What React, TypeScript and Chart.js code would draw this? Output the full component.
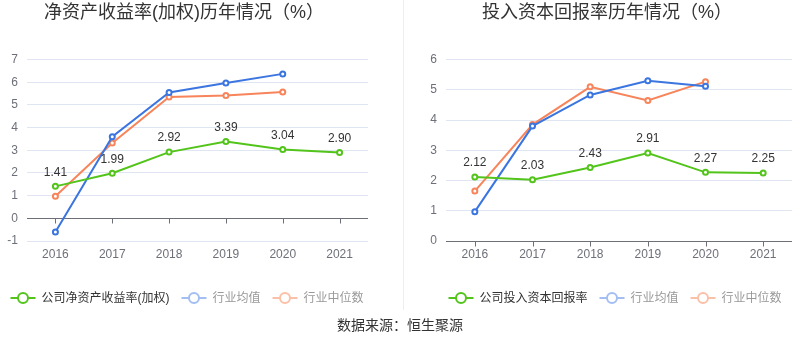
import React, { useEffect, useRef } from "react";
import { Chart, registerables } from "chart.js";
Chart.register(...registerables);

const years = ["2016", "2017", "2018", "2019", "2020", "2021"];

const roeTitle = "净资产收益率(加权)历年情况（%）";
const roeLabels = ["公司净资产收益率(加权)", "行业均值", "行业中位数"];
const roeCompany = [1.41, 1.99, 2.92, 3.39, 3.04, 2.9];
const roeIndustryMean = [-0.6, 3.6, 5.55, 5.97, 6.37, null];
const roeIndustryMedian = [0.97, 3.32, 5.35, 5.42, 5.57, null];
const roeRange = [-1, 7];

const roicTitle = "投入资本回报率历年情况（%）";
const roicLabels = ["公司投入资本回报率", "行业均值", "行业中位数"];
const roicCompany = [2.12, 2.03, 2.43, 2.91, 2.27, 2.25];
const roicIndustryMean = [0.97, 3.8, 4.83, 5.3, 5.12, null];
const roicIndustryMedian = [1.65, 3.85, 5.1, 4.65, 5.27, null];
const roicRange = [0, 6];

const sourceText = "数据来源：恒生聚源";

const FONT = "'Liberation Sans', 'Noto Sans CJK SC', sans-serif";
const COLORS = ["#52c41a", "#3a75e0", "#f7845a"];
const FADED = ["#52c41a", "#a3bef3", "#fbc0a8"];
const TEXT_COLORS = ["#333333", "#999999", "#999999"];

function drawIcon(ctx: CanvasRenderingContext2D, x: number, y: number, color: string) {
  ctx.save();
  ctx.strokeStyle = color;
  ctx.lineWidth = 2;
  ctx.beginPath();
  ctx.moveTo(x, y);
  ctx.lineTo(x + 25, y);
  ctx.stroke();
  ctx.beginPath();
  ctx.arc(x + 12.5, y, 5, 0, Math.PI * 2);
  ctx.fillStyle = "#fff";
  ctx.fill();
  ctx.stroke();
  ctx.restore();
}

const legendPlugin = {
  id: "customLegend",
  afterDraw(chart: any, _args: any, opts: any) {
    const { ctx } = chart;
    ctx.save();
    ctx.font = `12px ${FONT}`;
    const items = chart.data.datasets.map((ds: any) => ({
      text: ds.label as string,
      w: 25 + 6 + ctx.measureText(ds.label).width,
    }));
    const gap = 12;
    const total = items.reduce((a: number, it: any) => a + it.w, 0) + gap * (items.length - 1);
    let x = opts.centerX - total / 2;
    const y = opts.y;
    items.forEach((it: any, i: number) => {
      drawIcon(ctx, x, y, FADED[i]);
      ctx.fillStyle = TEXT_COLORS[i];
      ctx.textAlign = "left";
      ctx.textBaseline = "middle";
      ctx.fillText(it.text, x + 31, y + 1);
      x += it.w + gap;
    });
    ctx.restore();
  },
};

const zeroAxisPlugin = {
  id: "zeroAxis",
  beforeDatasetsDraw(chart: any) {
    const { ctx, chartArea, scales } = chart;
    const x = scales.x;
    const y = scales.y;
    const y0 = Math.round(y.getPixelForValue(0)) + 0.5;
    ctx.save();
    ctx.strokeStyle = "#6e7079";
    ctx.lineWidth = 1;
    ctx.beginPath();
    ctx.moveTo(chartArea.left, y0);
    ctx.lineTo(chartArea.right, y0);
    x.ticks.forEach((_: any, i: number) => {
      const px = Math.round(x.getPixelForTick(i)) + 0.5;
      ctx.moveTo(px, y0);
      ctx.lineTo(px, y0 + 5);
    });
    ctx.stroke();
    ctx.restore();
  },
};

const valueLabelPlugin = {
  id: "valueLabels",
  afterDatasetsDraw(chart: any) {
    const { ctx } = chart;
    const meta = chart.getDatasetMeta(0);
    const data = chart.data.datasets[0].data;
    ctx.save();
    ctx.font = `12px ${FONT}`;
    ctx.fillStyle = "#333";
    ctx.textAlign = "center";
    ctx.textBaseline = "middle";
    meta.data.forEach((pt: any, i: number) => {
      if (data[i] == null) return;
      ctx.fillText(Number(data[i]).toFixed(2), pt.x, pt.y - 14);
    });
    ctx.restore();
  },
};

function LineChart(props: {
  title: string;
  labels: string[];
  series: (number | null)[][];
  range: number[];
  yWidth: number;
  padLeft: number;
  padRight: number;
  legendCenter: number;
}) {
  const ref = useRef<HTMLCanvasElement>(null);
  useEffect(() => {
    const chart = new Chart(ref.current!, {
      type: "line",
      data: {
        labels: years,
        datasets: props.series.map((s, i) => ({
          label: props.labels[i],
          data: s,
          borderColor: COLORS[i],
          backgroundColor: "#fff",
          borderWidth: 2,
          pointRadius: 2.5,
          pointBorderWidth: 2,
          pointBackgroundColor: "#fff",
          pointBorderColor: COLORS[i],
          tension: 0,
          spanGaps: false,
        })),
      },
      options: {
        animation: false,
        responsive: false,
        devicePixelRatio: 1,
        layout: { padding: { left: props.padLeft, right: props.padRight, top: 0, bottom: 36 } },
        plugins: {
          title: {
            display: true,
            text: props.title,
            color: "#333",
            font: { size: 18, weight: "normal", family: FONT },
            padding: { top: 2, bottom: 36 },
          },
          legend: { display: false },
          tooltip: { enabled: false },
          customLegend: { centerX: props.legendCenter, y: 298 },
        },
        scales: {
          x: {
            offset: true,
            grid: { display: false, drawTicks: false },
            border: { display: false },
            ticks: { color: "#6e7079", font: { size: 12, family: FONT }, padding: 6 },
            afterFit: (s: any) => {
              s.height = 39;
            },
          },
          y: {
            min: props.range[0],
            max: props.range[1],
            grid: { color: "#e0e6f1", drawTicks: false },
            border: { display: false },
            ticks: {
              stepSize: 1,
              color: "#6e7079",
              font: { size: 12, family: FONT },
              padding: 9,
            },
            afterFit: (s: any) => {
              s.width = props.yWidth;
            },
          },
        },
      } as any,
      plugins: [zeroAxisPlugin, valueLabelPlugin, legendPlugin],
    });
    return () => chart.destroy();
  }, []);
  return <canvas ref={ref} width={400} height={316} style={{ display: "block" }} />;
}

export default function App() {
  return (
    <div
      style={{
        position: "absolute",
        left: 0,
        top: 0,
        width: 800,
        height: 358,
        background: "#fff",
        overflow: "hidden",
      }}
    >
      <div style={{ position: "absolute", left: 0, top: 0, width: 400, height: 316 }}>
        <LineChart
          title={roeTitle}
          labels={roeLabels}
          series={[roeCompany, roeIndustryMean, roeIndustryMedian]}
          range={roeRange}
          yWidth={27}
          padLeft={0}
          padRight={32}
          legendCenter={187}
        />
      </div>
      <div style={{ position: "absolute", left: 400, top: 0, width: 400, height: 316 }}>
        <LineChart
          title={roicTitle}
          labels={roicLabels}
          series={[roicCompany, roicIndustryMean, roicIndustryMedian]}
          range={roicRange}
          yWidth={24}
          padLeft={22}
          padRight={8}
          legendCenter={215}
        />
      </div>
      <div
        style={{
          position: "absolute",
          left: 403,
          top: 0,
          width: 1,
          height: 310,
          background: "#eeeeee",
        }}
      />
      <div
        style={{
          position: "absolute",
          left: 0,
          top: 315,
          width: 800,
          textAlign: "center",
          fontSize: 14,
          lineHeight: "20px",
          color: "#333",
          fontFamily: FONT,
        }}
      >
        {sourceText}
      </div>
    </div>
  );
}
